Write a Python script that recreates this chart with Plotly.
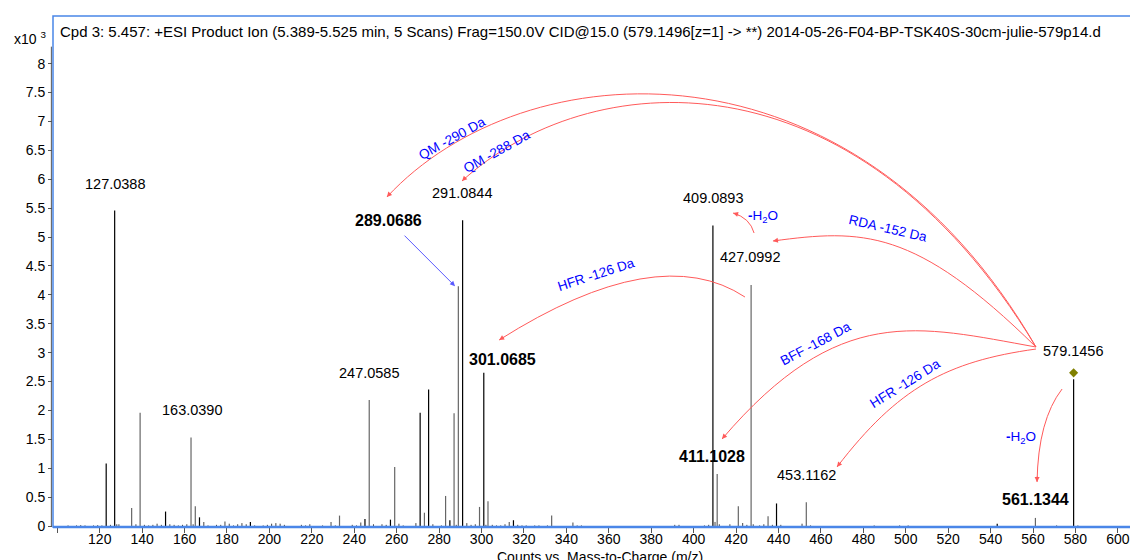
import plotly.graph_objects as go

# ---------------- data ----------------
# main peaks: m/z, intensity (x10^3 counts), shade (k = black, g = grey)
peak_mz = [123.045, 127.039, 135.045, 139.039, 151.039, 163.039, 165.055, 167.034, 169.050,
           179.034, 191.034, 229.050, 233.045, 243.065, 245.045, 247.059, 257.065, 259.060,
           271.060, 273.076, 275.055, 283.060, 285.076, 287.055, 289.069, 291.084, 299.055,
           301.069, 303.050, 313.070, 315.050, 333.060, 343.080, 409.089, 411.103, 421.070,
           423.090, 427.099, 435.090, 439.080, 453.116, 543.130, 561.134, 579.146]
peak_int = [1.08, 5.46, 0.31, 1.96, 0.25, 1.53, 0.34, 0.15, 0.07,
            0.08, 0.07, 0.07, 0.18, 0.06, 0.12, 2.18, 0.11, 1.02,
            1.96, 0.23, 2.36, 0.52, 0.10, 1.95, 4.15, 5.29, 0.33,
            2.65, 0.43, 0.07, 0.10, 0.18, 0.06, 5.20, 0.90, 0.34,
            0.05, 4.17, 0.17, 0.39, 0.41, 0.04, 0.14, 2.54]
peak_shade = ["k", "k", "g", "g", "k", "g", "g", "k", "g",
              "g", "k", "g", "g", "g", "k", "g", "k", "g",
              "k", "g", "k", "g", "k", "g", "g", "k", "g",
              "k", "g", "g", "k", "g", "g", "k", "g", "g",
              "g", "g", "g", "k", "g", "k", "g", "k"]

# low-level noise peaks
noise_mz = [105.07, 109.06, 111.04, 113.06, 117.05, 119.05, 121.03, 125.06, 128.04, 129.05,
            137.06, 141.05, 143.07, 145.06, 147.04, 149.06, 153.05, 155.07, 157.06, 159.04,
            161.06, 164.04, 171.05, 175.04, 177.05, 181.05, 183.06, 185.04, 187.04, 189.06,
            193.05, 197.06, 199.04, 201.05, 203.04, 205.05, 207.06, 215.07, 217.05, 219.05,
            225.06, 231.06, 239.05, 241.06, 249.06, 253.07, 255.06, 261.06, 263.08, 269.06,
            277.06, 281.07, 288.07, 293.07, 295.07, 297.06, 302.07, 305.07, 307.08, 309.06,
            311.07, 317.07, 319.08, 321.06, 325.08, 327.07, 331.07, 345.09, 347.08, 391.10,
            393.10, 405.09, 407.10, 410.09, 412.10, 417.09, 425.10, 428.10, 431.10, 433.10,
            437.11, 441.10, 451.11, 455.12, 485.13, 497.12, 501.13, 571.14, 581.15]
noise_int = [0.01, 0.01, 0.015, 0.01, 0.01, 0.015, 0.01, 0.02, 0.03, 0.03,
             0.03, 0.02, 0.01, 0.02, 0.04, 0.02, 0.03, 0.02, 0.01, 0.02,
             0.03, 0.03, 0.01, 0.02, 0.02, 0.04, 0.01, 0.03, 0.05, 0.03,
             0.01, 0.01, 0.02, 0.04, 0.05, 0.04, 0.02, 0.02, 0.01, 0.03,
             0.01, 0.01, 0.02, 0.01, 0.03, 0.03, 0.02, 0.04, 0.01, 0.05,
             0.03, 0.01, 0.02, 0.05, 0.02, 0.03, 0.02, 0.02, 0.01, 0.01,
             0.03, 0.02, 0.01, 0.01, 0.01, 0.01, 0.01, 0.01, 0.01, 0.02,
             0.02, 0.01, 0.02, 0.07, 0.03, 0.03, 0.02, 0.03, 0.01, 0.03,
             0.02, 0.02, 0.04, 0.01, 0.01, 0.01, 0.01, 0.01, 0.01]

precursor_mz = 579.1456
precursor_int = 2.65

# peak labels: text, x (m/z), y (x10^3), bold
label_text = ["127.0388", "163.0390", "247.0585", "289.0686", "291.0844", "301.0685",
              "409.0893", "427.0992", "411.1028", "453.1162", "561.1344", "579.1456"]
label_x = [127.2, 163.5, 247.0, 256.1, 291.0, 309.9, 408.9, 426.8, 408.7, 453.0, 561.0, 578.8]
label_y = [5.92, 2.00, 2.65, 5.28, 5.77, 2.88, 5.67, 4.65, 1.20, 0.88, 0.46, 3.02]
label_bold = [False, False, False, True, False, True, False, False, True, False, True, False]

# fragmentation annotations (blue): text, x, y, angle
frag_text = ["QM -290 Da", "QM -288 Da", "RDA -152 Da", "HFR -126 Da", "BFF -168 Da",
             "HFR -126 Da", "<b>-</b>H<sub>2</sub>O", "<b>-</b>H<sub>2</sub>O"]
frag_x = [285.95, 307.2, 491.7, 354.0, 457.7, 499.7, 432.7, 554.4]
frag_y = [6.71, 6.48, 5.14, 4.36, 3.15, 2.47, 5.35, 1.53]
frag_angle = [-29, -29, 13, -18, -28, -32, 0, 0]

# curved red arrows: list of control points (m/z, intensity) and arrow-head tail offset (px)
curves = [
    [(561.4, 3.097), (475.0, 8.60), (320.0, 8.25), (255.4, 5.692)],
    [(561.4, 3.097), (475.0, 8.35), (350.0, 7.95), (290.8, 5.969)],
    [(561.4, 3.097), (504.3, 5.159), (479.5, 5.138), (437.4, 4.931)],
    [(428.5, 5.069), (426.6, 5.329), (418.6, 5.415)],
    [(424.2, 3.962), (383.2, 4.957), (308.3, 3.218)],
    [(561.4, 3.097), (505.8, 3.462), (468.5, 3.872), (413.4, 1.505)],
    [(561.4, 3.062), (519.4, 2.849), (496.3, 2.393), (467.6, 1.021)],
    [(573.7, 2.370), (562.4, 1.834), (561.9, 0.761)],
]
head_off = [(4.6, -5.3), (5.0, -4.9), (6.9, -0.9), (6.7, 2.0), (5.9, -3.7),
            (4.5, -5.3), (4.3, -5.6), (0.1, -7.0)]

# blue straight arrow (tail -> tip)
blue_arrow = [(263.0, 5.05), (287.5, 4.15)]

title_text = ("Cpd 3: 5.457: +ESI Product Ion (5.389-5.525 min, 5 Scans) Frag=150.0V CID@15.0 "
              "(579.1496[z=1] -> **) 2014-05-26-F04-BP-TSK40S-30cm-julie-579p14.d")
x_ticks = list(range(100, 601, 20))
y_ticks = [i * 0.5 for i in range(17)]

FONT = "Liberation Sans, Arial, Helvetica, sans-serif"
RED = "#ff5a5a"
BLUE = "#0000ff"
FRAME = "#4a86e8"

# ---------------- figure ----------------
fig = go.Figure()


def stick_xy(xs, ys):
    X, Y = [], []
    for a, b in zip(xs, ys):
        X += [a, a, None]
        Y += [0, b, None]
    return X, Y


nx, ny = stick_xy(noise_mz, noise_int)
fig.add_trace(go.Scatter(x=nx, y=ny, mode="lines", line=dict(color="#444444", width=1),
                         hoverinfo="skip", showlegend=False))
for shade, col in (("g", "#666666"), ("k", "#000000")):
    xs = [m for m, s in zip(peak_mz, peak_shade) if s == shade]
    ys = [v for v, s in zip(peak_int, peak_shade) if s == shade]
    X, Y = stick_xy(xs, ys)
    fig.add_trace(go.Scatter(x=X, y=Y, mode="lines", line=dict(color=col, width=1.2),
                             hoverinfo="skip", showlegend=False))

fig.add_trace(go.Scatter(x=[precursor_mz], y=[precursor_int], mode="markers",
                         marker=dict(symbol="diamond", size=7, color="#808000"),
                         hoverinfo="skip", showlegend=False))

shapes = []
for pts in curves:
    if len(pts) == 4:
        p = "M {},{} C {},{} {},{} {},{}".format(*[c for pt in pts for c in pt])
    else:
        p = "M {},{} Q {},{} {},{}".format(*[c for pt in pts for c in pt])
    shapes.append(dict(type="path", path=p, xref="x", yref="y",
                       line=dict(color=RED, width=1)))

# frame
shapes.append(dict(type="rect", xref="paper", yref="paper", x0=0, x1=1, y0=0, y1=1,
                   line=dict(color=FRAME, width=1.5), layer="above"))
shapes.append(dict(type="line", xref="paper", yref="paper", x0=0, x1=1, y0=0, y1=0,
                   line=dict(color=FRAME, width=2.5), layer="above"))
shapes.append(dict(type="line", xref="paper", yref="paper", x0=-0.0015, x1=-0.0015,
                   y0=0, y1=0.94, line=dict(color="#555555", width=1), layer="above"))

ann = []
for t, x, y, b in zip(label_text, label_x, label_y, label_bold):
    ann.append(dict(x=x, y=y, xref="x", yref="y", showarrow=False,
                    text=f"<b>{t}</b>" if b else t,
                    font=dict(family=FONT, size=16 if b else 14.5, color="#000000")))
for t, x, y, a in zip(frag_text, frag_x, frag_y, frag_angle):
    ann.append(dict(x=x, y=y, xref="x", yref="y", showarrow=False, text=t, textangle=a,
                    font=dict(family=FONT, size=13.5, color=BLUE)))
for pts, (ox, oy) in zip(curves, head_off):
    tip = pts[-1]
    ann.append(dict(x=tip[0], y=tip[1], xref="x", yref="y", ax=ox, ay=oy, text="",
                    showarrow=True, arrowhead=2, arrowsize=1, arrowwidth=1,
                    arrowcolor=RED, standoff=0, startstandoff=0))
ann.append(dict(x=blue_arrow[1][0], y=blue_arrow[1][1], ax=blue_arrow[0][0], ay=blue_arrow[0][1],
                xref="x", yref="y", axref="x", ayref="y", text="", showarrow=True,
                arrowhead=2, arrowsize=1, arrowwidth=1, arrowcolor="#5a5aff"))

ann.append(dict(x=0.0046, y=0.969, xref="paper", yref="paper", xanchor="left", yanchor="middle",
                showarrow=False, text=title_text, font=dict(family=FONT, size=15, color="#000")))
ann.append(dict(x=-0.0046, y=0.957, xref="paper", yref="paper", xanchor="right", yanchor="middle",
                showarrow=False, text="x10 <sup>3</sup>", font=dict(family=FONT, size=14, color="#000")))
ann.append(dict(x=0.504, y=-0.058, xref="paper", yref="paper", xanchor="center", yanchor="middle",
                showarrow=False, text="Counts vs. Mass-to-Charge (m/z)",
                font=dict(family=FONT, size=14, color="#000")))

# page body has an 8px default margin; size the figure so the plot area lands where it should
fig.update_layout(
    width=1130, height=552,
    margin=dict(l=45, r=0, t=8, b=33, pad=0),
    paper_bgcolor="white", plot_bgcolor="white",
    font=dict(family=FONT, size=14, color="#000"),
    shapes=shapes, annotations=ann, showlegend=False,
    xaxis=dict(range=[97.97, 609.5], tickvals=x_ticks,
               ticktext=["" if v == 100 else str(v) for v in x_ticks],
               ticks="outside", ticklen=5, tickcolor="#555555", tickwidth=1,
               ticklabelstandoff=-6,
               showgrid=False, zeroline=False, showline=False, automargin=False,
               tickfont=dict(family=FONT, size=14)),
    yaxis=dict(range=[-0.0173, 8.824], tickvals=y_ticks,
               ticktext=[("%g" % v) for v in y_ticks],
               ticks="outside", ticklen=4, tickcolor="#555555", tickwidth=1,
               showgrid=False, zeroline=False, showline=False, automargin=False,
               tickfont=dict(family=FONT, size=14)),
)

fig.write_html("out.html")
